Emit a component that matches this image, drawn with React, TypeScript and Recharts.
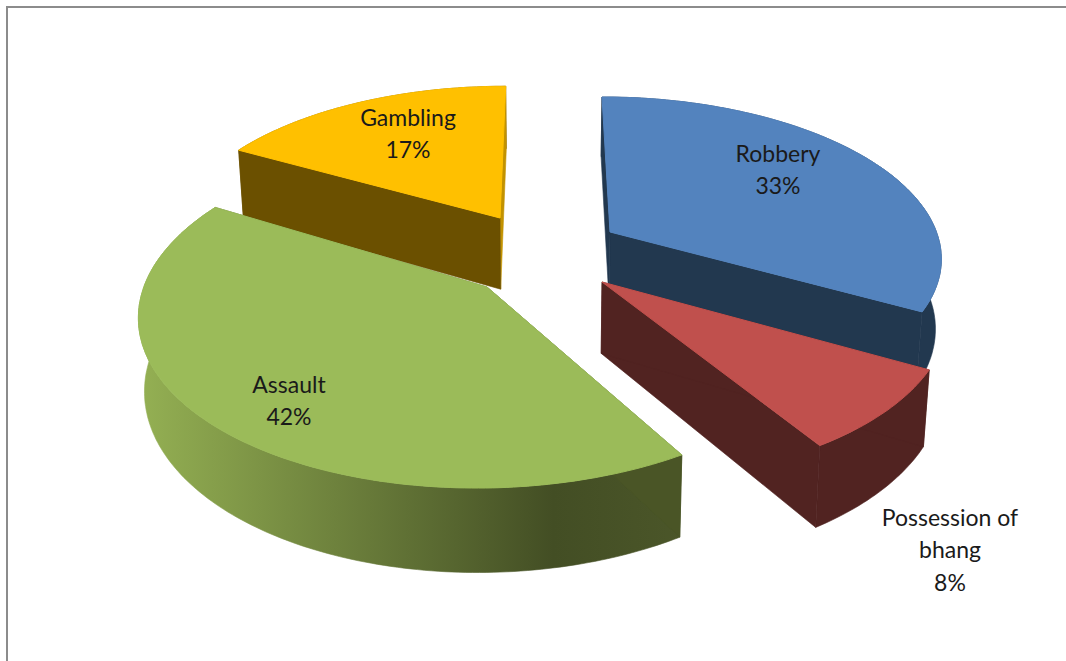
import React from "react";
import { PieChart, Pie } from "recharts";

const categories = ["Gambling", "Robbery", "Possession of bhang", "Assault"];
const shares = [17, 33, 8, 42];

const topColors = ["#FFC000", "#5383BE", "#C0504D", "#9BBB59"];
const wallColors = ["#6B5000", "#22384F", "#512321", "#4A5526"];
const endFaceColors = ["#C29200", "#22384F", "#512321", "#4A5526"];

// Screen offset of each exploded slice's tip from the pie centre.
const sliceShift = [
  { x: -46, y: -42 },
  { x: 64, y: -28 },
  { x: 56, y: 22 },
  { x: -59, y: 27 },
];

// Whole-slice rotation in degrees; the exploded slices are not perfectly aligned.
const sliceTurn = [0, 0, 0, -1.3];

// Wall height of each slice at the pie's mid depth.
const sliceThickness = [74, 70, 70, 70];

// Label centre relative to the slice's tip.
const labelOffset = [
  { x: -92, y: -85 },
  { x: 168, y: -63 },
  { x: 348, y: 267 },
  { x: -198, y: 113 },
];

const WIDTH = 1066;
const HEIGHT = 661;
const PIE_CX = 546;
const PIE_CY = 260;
const RADIUS = 162.6;
const STRETCH = 2.06; // horizontal radius relative to the vertical one
const PERSPECTIVE = 0.1475;
const FOOT_SHRINK = 0.985; // the underside converges slightly towards the centre line
const RAD = Math.PI / 180;

type Pt = { x: number; y: number };

// Disc-plane position of an exploded slice's tip, from its screen offset.
const tipOnDisc = (index: number, R: number) => {
  const s = sliceShift[index];
  const v = s.y / (R + PERSPECTIVE * s.y);
  const u = (s.x * (1 - PERSPECTIVE * v)) / (R * STRETCH);
  return { u, v };
};

// Perspective projection of a rim point (r = 1) or the tip (r = 0) of a slice.
const project = (cx: number, cy: number, R: number, index: number, deg: number, r = 1, foot = false): Pt => {
  const tip = tipOnDisc(index, R);
  const u = tip.u + r * Math.cos(deg * RAD);
  const v = tip.v - r * Math.sin(deg * RAD);
  const w = 1 - PERSPECTIVE * v;
  const k = foot ? FOOT_SHRINK : 1;
  return {
    x: cx + (R * STRETCH * u * k) / w,
    y: cy + (R * v) / w + (foot ? sliceThickness[index] / w : 0),
  };
};

const arcPoints = (cx: number, cy: number, R: number, index: number, from: number, to: number, foot = false): Pt[] => {
  const steps = Math.max(2, Math.ceil(Math.abs(to - from)));
  const pts: Pt[] = [];
  for (let i = 0; i <= steps; i++) {
    pts.push(project(cx, cy, R, index, from + ((to - from) * i) / steps, 1, foot));
  }
  return pts;
};

const toPath = (pts: Pt[]) =>
  pts.map((p, i) => `${i ? "L" : "M"}${p.x.toFixed(1)} ${p.y.toFixed(1)}`).join("") + "Z";

const Slice3D = (props: any) => {
  const { cx, cy, outerRadius: R, index } = props;
  const startAngle = props.startAngle + sliceTurn[index];
  const endAngle = props.endAngle + sliceTurn[index];
  const tip = project(cx, cy, R, index, 0, 0);
  const tipFoot = project(cx, cy, R, index, 0, 0, true);
  const startTop = project(cx, cy, R, index, startAngle);
  const startFoot = project(cx, cy, R, index, startAngle, 1, true);
  const endTop = project(cx, cy, R, index, endAngle);
  const endFoot = project(cx, cy, R, index, endAngle, 1, true);
  const rimTop = arcPoints(cx, cy, R, index, startAngle, endAngle);
  const rimFoot = arcPoints(cx, cy, R, index, endAngle, startAngle, true);
  const wallFill = index === 3 ? "url(#assaultWall)" : wallColors[index];
  return (
    <g>
      <path d={toPath([...rimTop, ...rimFoot])} fill={wallFill} stroke={wallFill} strokeWidth={0.6} />
      <path
        d={toPath([tip, tipFoot, endFoot, endTop])}
        fill={endFaceColors[index]}
        stroke={endFaceColors[index]}
        strokeWidth={0.6}
      />
      <path
        d={toPath([tip, tipFoot, startFoot, startTop])}
        fill={wallColors[index]}
        stroke={wallColors[index]}
        strokeWidth={0.6}
      />
      <path d={toPath([tip, ...rimTop])} fill={topColors[index]} stroke={topColors[index]} strokeWidth={1} />
    </g>
  );
};

const SliceLabel = (props: any) => {
  const { cx, cy, outerRadius, index, payload } = props;
  const tip = project(cx, cy, outerRadius, index, 0, 0);
  const off = labelOffset[index];
  const lines = payload.wrapped as string[];
  const x = tip.x + off.x;
  const lineH = 32.5;
  const y0 = tip.y + off.y - ((lines.length - 1) * lineH) / 2;
  return (
    <text
      x={x}
      y={y0}
      textAnchor="middle"
      fontFamily="Lato, 'Open Sans', sans-serif"
      fontSize={23}
      fill="#1a1a1a"
    >
      {lines.map((line, i) => (
        <tspan key={i} x={x} y={y0 + i * lineH} dominantBaseline="central">
          {line}
        </tspan>
      ))}
    </text>
  );
};

const wrappedNames: Record<string, string[]> = {
  "Possession of bhang": ["Possession of", "bhang"],
};

const rows = categories.map((name, i) => ({
  name,
  value: shares[i],
  wrapped: [...(wrappedNames[name] ?? [name]), `${shares[i]}%`],
}));

export default function App() {
  return (
    <div
      style={{
        position: "absolute",
        left: 0,
        top: 0,
        width: WIDTH,
        height: HEIGHT,
        background: "#fff",
        overflow: "hidden",
      }}
    >
      {/* frame of the chart area, cut off on the right and at the bottom */}
      <div
        style={{
          position: "absolute",
          left: 6,
          top: 6,
          width: WIDTH,
          height: HEIGHT,
          borderLeft: "2px solid #8c8c8c",
          borderTop: "2px solid #8c8c8c",
        }}
      />
      <div style={{ position: "absolute", left: 0, top: 0 }}>
        <PieChart width={WIDTH} height={HEIGHT} margin={{ top: 0, right: 0, bottom: 0, left: 0 }}>
          <defs>
            <linearGradient id="assaultWall" x1="140" x2="684" y1="0" y2="0" gradientUnits="userSpaceOnUse">
              <stop offset="0" stopColor="#94B053" />
              <stop offset="0.76" stopColor="#434E24" />
              <stop offset="1" stopColor="#4B5629" />
            </linearGradient>
          </defs>
          <Pie
            data={rows}
            dataKey="value"
            nameKey="name"
            cx={PIE_CX}
            cy={PIE_CY}
            innerRadius={0}
            outerRadius={RADIUS}
            startAngle={151.2}
            endAngle={-208.8}
            stroke="none"
            isAnimationActive={false}
            shape={Slice3D}
            label={SliceLabel}
            labelLine={false}
          />
        </PieChart>
      </div>
    </div>
  );
}
